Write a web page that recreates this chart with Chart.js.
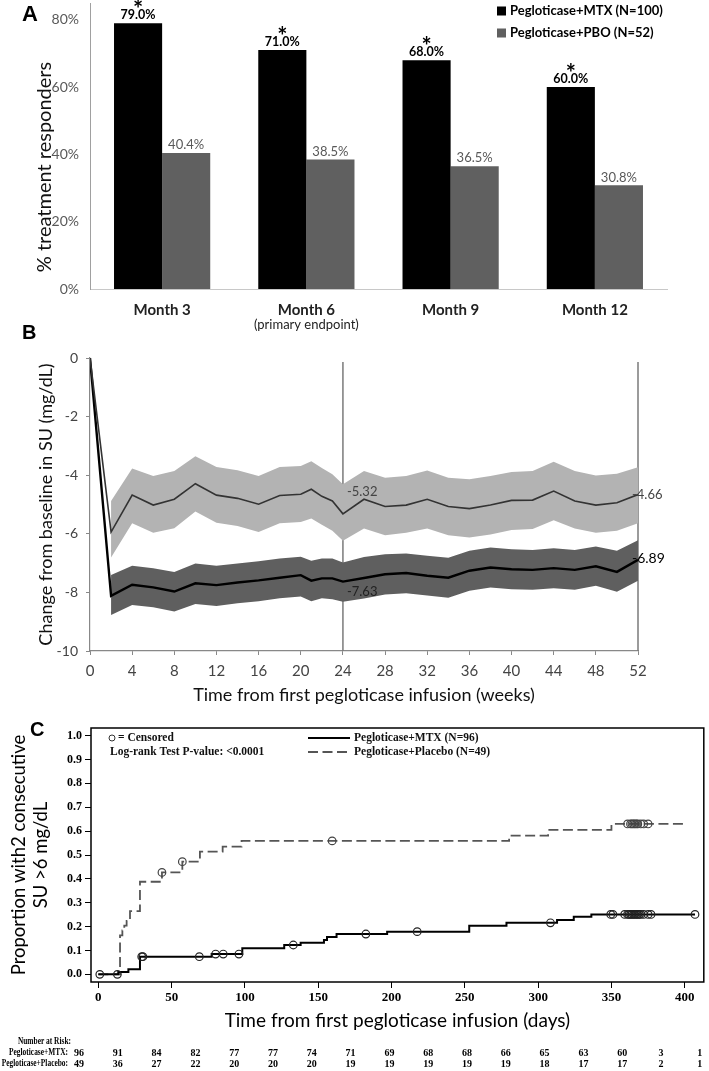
<!DOCTYPE html>
<html>
<head>
<meta charset="utf-8">
<script src="https://cdn.jsdelivr.net/npm/chart.js@4.4.0/dist/chart.umd.min.js"></script>
<style>
  html, body { margin: 0; padding: 0; background: #fff; }
  #page { position: relative; width: 709px; height: 1071px; overflow: hidden; }
  canvas { position: absolute; left: 0; }
</style>
</head>
<body>
<div id="page">
  <canvas id="respCanvas" width="709" height="340" style="top:0px"></canvas>
  <canvas id="suCanvas" width="709" height="397" style="top:318px"></canvas>
  <canvas id="kmCanvas" width="709" height="356" style="top:715px"></canvas>
</div>
<script>
// ---- Panel A: responders by month ----
const months = ['Month 3', 'Month 6', 'Month 9', 'Month 12'];
const monthNotes = ['', '(primary endpoint)', '', ''];
const mtxResp = [79.0, 71.0, 68.0, 60.0];
const pboResp = [40.4, 38.5, 36.5, 30.8];
const mtxStar = [true, true, true, true];
const respTicks = [0, 20, 40, 60, 80];

// ---- Panel B: change from baseline in SU ----
const weeks = [0, 2, 4, 6, 8, 10, 12, 14, 16, 18, 20, 21, 22, 23, 24, 26, 28, 30, 32, 34, 36, 38, 40, 42, 44, 46, 48, 50, 52];
const pboChange = [0, -5.94, -4.68, -5.02, -4.82, -4.29, -4.68, -4.79, -4.99, -4.69, -4.65, -4.48, -4.72, -4.88, -5.32, -4.82, -5.07, -5.02, -4.82, -5.07, -5.14, -5.02, -4.86, -4.85, -4.54, -4.88, -5.02, -4.94, -4.66];
const pboUpper = [null, -4.88, -3.77, -4.03, -3.86, -3.35, -3.72, -3.83, -4.03, -3.72, -3.69, -3.52, -3.75, -3.97, -4.31, -3.86, -4.09, -4.03, -3.84, -4.09, -4.14, -4.03, -3.89, -3.86, -3.54, -3.86, -4.01, -3.95, -3.73];
const pboLower = [null, -6.81, -5.64, -5.96, -5.81, -5.24, -5.62, -5.73, -5.94, -5.64, -5.60, -5.48, -5.69, -5.90, -6.24, -5.82, -6.05, -5.96, -5.82, -6.05, -6.13, -6.02, -5.87, -5.84, -5.54, -5.82, -5.96, -5.90, -5.64];
const mtxChange = [0, -8.12, -7.74, -7.83, -7.97, -7.69, -7.75, -7.66, -7.59, -7.50, -7.41, -7.60, -7.52, -7.52, -7.63, -7.51, -7.38, -7.34, -7.43, -7.50, -7.26, -7.15, -7.21, -7.23, -7.17, -7.23, -7.11, -7.30, -6.89];
const mtxUpper = [null, -7.41, -7.09, -7.18, -7.30, -7.01, -7.09, -7.01, -6.94, -6.84, -6.78, -6.92, -6.84, -6.84, -6.98, -6.79, -6.70, -6.67, -6.75, -6.82, -6.58, -6.47, -6.53, -6.55, -6.49, -6.55, -6.43, -6.58, -6.22];
const mtxLower = [null, -8.77, -8.43, -8.51, -8.65, -8.40, -8.46, -8.37, -8.30, -8.20, -8.14, -8.30, -8.20, -8.23, -8.32, -8.21, -8.07, -8.03, -8.11, -8.18, -7.94, -7.83, -7.89, -7.91, -7.86, -7.91, -7.77, -7.98, -7.60];
const weekTicks = [0, 4, 8, 12, 16, 20, 24, 28, 32, 36, 40, 44, 48, 52];
const suTicks = [0, -2, -4, -6, -8, -10];
const markerWeeks = [24, 52];

// ---- Panel C: Kaplan-Meier, loss of response ----
const mtxKmDays = [0, 13.6, 20.5, 28.4, 77.3, 98.2, 126.8, 138, 153.9, 156, 162.5, 197, 253, 278.4, 312.9, 324.3, 336.3, 407];
const mtxKmProp = [0, 0.010, 0.021, 0.074, 0.085, 0.109, 0.123, 0.132, 0.144, 0.156, 0.169, 0.179, 0.204, 0.216, 0.228, 0.241, 0.251, 0.251];
const mtxCensorDays = [1, 13, 29.6, 30.4, 68.9, 80, 85.2, 95.9, 133, 182.5, 217.5, 308.4, 349.5, 351, 359, 361, 362, 363, 364, 365, 366, 367, 368, 369, 370, 372, 375, 377, 407];
const mtxCensorProp = [0, 0, 0.074, 0.074, 0.074, 0.085, 0.085, 0.085, 0.123, 0.169, 0.179, 0.216, 0.251, 0.251, 0.251, 0.251, 0.251, 0.251, 0.251, 0.251, 0.251, 0.251, 0.251, 0.251, 0.251, 0.251, 0.251, 0.251, 0.251];
const pboKmDays = [0, 14.8, 16.4, 17.7, 19.3, 21.6, 28.4, 43.4, 57.3, 69.3, 84.8, 97.7, 280.2, 306.8, 350, 400];
const pboKmProp = [0, 0.163, 0.184, 0.204, 0.224, 0.265, 0.388, 0.427, 0.472, 0.514, 0.535, 0.559, 0.581, 0.605, 0.630, 0.630];
const pboCensorDays = [43.4, 57.3, 159.5, 361, 363, 364, 365, 366, 367, 368, 370, 372, 375];
const pboCensorProp = [0.427, 0.472, 0.559, 0.630, 0.630, 0.630, 0.630, 0.630, 0.630, 0.630, 0.630, 0.630, 0.630];
const kmDayTicks = [0, 50, 100, 150, 200, 250, 300, 350, 400];
const kmPropTicks = [0, 0.05, 0.1, 0.15, 0.2, 0.25, 0.3, 0.35, 0.4, 0.45, 0.5, 0.55, 0.6, 0.65, 0.7, 0.75, 0.8, 0.85, 0.9, 0.95, 1.0];
const riskLabels = ['Pegloticase+MTX:', 'Pegloticase+Placebo:'];
const riskMtx = [96, 91, 84, 82, 77, 77, 74, 71, 69, 68, 68, 66, 65, 63, 60, 3, 1];
const riskPbo = [49, 36, 27, 22, 20, 20, 20, 19, 19, 19, 19, 19, 18, 17, 17, 2, 1];

const SANS = 'Lato, "Open Sans", sans-serif';
const SERIF = '"Liberation Serif", "DejaVu Serif", serif';
Chart.defaults.font.family = SANS;

const pts = (xs, ys) => xs.map((x, i) => ({ x, y: ys[i] }));
const fixedTicks = values => scale => { scale.ticks = values.map(v => ({ value: v })); };

// plain text layer (panel letters, free titles)
function textLayer(id, items) {
    return {
        id,
        afterDraw(chart) {
            const ctx = chart.ctx;
            items.forEach(it => {
                ctx.save();
                ctx.font = it.font;
                ctx.fillStyle = it.color || '#000';
                ctx.textAlign = it.align || 'left';
                ctx.textBaseline = 'middle';
                ctx.translate(it.x, it.y);
                if (it.rotate) ctx.rotate(it.rotate);
                ctx.fillText(it.text, 0, 0);
                ctx.restore();
            });
        }
    };
}

// ===== Panel A =====
const barLabels = {
    id: 'barLabels',
    afterDatasetsDraw(chart) {
        const ctx = chart.ctx;
        chart.data.datasets.forEach((ds, i) => {
            chart.getDatasetMeta(i).data.forEach((bar, j) => {
                ctx.save();
                ctx.textAlign = 'center';
                ctx.textBaseline = 'middle';
                if (i === 0) {
                    ctx.fillStyle = '#000';
                    ctx.font = `bold 12.5px ${SANS}`;
                    ctx.fillText(ds.data[j].toFixed(1) + '%', bar.x, bar.y - 8);
                    if (mtxStar[j]) {
                        ctx.textBaseline = 'alphabetic';
                        ctx.font = `bold 24px ${SANS}`;
                        ctx.fillText('*', bar.x, bar.y - 5);
                    }
                } else {
                    ctx.fillStyle = '#595959';
                    ctx.font = `13px ${SANS}`;
                    ctx.fillText(ds.data[j].toFixed(1) + '%', bar.x, bar.y - 8);
                }
                ctx.restore();
            });
        });
        // sub note under the category label
        const xs = chart.scales.x;
        ctx.save();
        ctx.font = `13px ${SANS}`;
        ctx.fillStyle = '#222';
        ctx.textAlign = 'center';
        ctx.textBaseline = 'middle';
        monthNotes.forEach((note, j) => {
            if (note) ctx.fillText(note, xs.getPixelForValue(j), 325);
        });
        ctx.restore();
    }
};

const respLegend = {
    id: 'respLegend',
    afterDraw(chart) {
        const ctx = chart.ctx;
        chart.data.datasets.forEach((ds, i) => {
            const y = 11 + i * 22;
            ctx.save();
            ctx.fillStyle = ds.backgroundColor;
            ctx.fillRect(497, y - 4.5, 9, 9);
            ctx.fillStyle = '#000';
            ctx.font = `bold 13px ${SANS}`;
            ctx.textBaseline = 'middle';
            ctx.fillText(ds.label, 510, y);
            ctx.restore();
        });
    }
};

new Chart(document.getElementById('respCanvas'), {
    type: 'bar',
    data: {
        labels: months,
        datasets: [
            { label: 'Pegloticase+MTX (N=100)', data: mtxResp, backgroundColor: '#000000' },
            { label: 'Pegloticase+PBO (N=52)', data: pboResp, backgroundColor: '#606060' }
        ]
    },
    options: {
        responsive: false,
        animation: false,
        devicePixelRatio: 1,
        layout: { padding: { top: 3, right: 42, left: 0, bottom: 0 } },
        datasets: { bar: { categoryPercentage: 0.667, barPercentage: 1 } },
        plugins: { legend: { display: false }, tooltip: { enabled: false } },
        scales: {
            x: {
                grid: { display: false, drawTicks: false },
                border: { color: '#c8c8c8', width: 1 },
                ticks: { color: '#222', font: { size: 15, weight: 'bold' }, padding: 12 },
                afterFit(s) { s.height = 51; }
            },
            y: {
                min: 0,
                max: 85,
                afterBuildTicks: fixedTicks(respTicks),
                grid: { display: false, drawTicks: false },
                border: { color: '#a0a0a0', width: 1 },
                ticks: { callback: v => v + '%', color: '#595959', font: { size: 14 }, padding: 11 },
                afterFit(s) { s.width = 90; s.paddingTop = 0; s.paddingBottom = 0; }
            }
        }
    },
    plugins: [barLabels, respLegend, textLayer('respText', [
        { text: 'A', x: 22, y: 15, font: `bold 22px "Liberation Sans", sans-serif` },
        { text: '% treatment responders', x: 45, y: 167, font: `20px ${SANS}`, color: '#111', align: 'center', rotate: -Math.PI / 2 }
    ])]
});

// ===== Panel B =====
const suMarkers = {
    id: 'suMarkers',
    beforeDatasetsDraw(chart) {
        const { ctx, chartArea, scales: { x } } = chart;
        ctx.save();
        ctx.strokeStyle = '#7a7a7a';
        ctx.lineWidth = 1.5;
        markerWeeks.forEach(w => {
            const px = x.getPixelForValue(w);
            ctx.beginPath();
            ctx.moveTo(px, chartArea.top + 4);
            ctx.lineTo(px, chartArea.bottom);
            ctx.stroke();
        });
        ctx.restore();
    },
    afterDatasetsDraw(chart) {
        const { ctx, scales: { x, y } } = chart;
        const i24 = weeks.indexOf(markerWeeks[0]);
        const i52 = weeks.indexOf(markerWeeks[1]);
        const x24 = x.getPixelForValue(markerWeeks[0]);
        const x52 = x.getPixelForValue(markerWeeks[1]);
        ctx.save();
        ctx.textBaseline = 'middle';
        ctx.font = `13px ${SANS}`;
        ctx.fillStyle = '#444';
        ctx.fillText(pboChange[i24].toFixed(2), x24 + 4, y.getPixelForValue(pboChange[i24]) - 22);
        ctx.fillStyle = '#222';
        ctx.fillText(mtxChange[i24].toFixed(2), x24 + 4, y.getPixelForValue(mtxChange[i24]) + 10);
        ctx.fillStyle = '#444';
        ctx.fillText(pboChange[i52].toFixed(2), x52 - 6, y.getPixelForValue(pboChange[i52]));
        ctx.fillStyle = '#000';
        ctx.font = `14px ${SANS}`;
        ctx.fillText(mtxChange[i52].toFixed(2), x52 - 6, y.getPixelForValue(mtxChange[i52]) - 1);
        ctx.restore();
    }
};

new Chart(document.getElementById('suCanvas'), {
    type: 'line',
    data: {
        datasets: [
            { label: 'Pegloticase+PBO', data: pts(weeks, pboChange), borderColor: '#333333', borderWidth: 1.6, pointRadius: 0, order: 0 },
            { label: 'Pegloticase+MTX', data: pts(weeks, mtxChange), borderColor: '#000000', borderWidth: 2.4, pointRadius: 0, order: 0 },
            { label: 'PBO upper', data: pts(weeks, pboUpper), borderWidth: 0, pointRadius: 0, fill: '+1', backgroundColor: '#b3b3b3', order: 2 },
            { label: 'PBO lower', data: pts(weeks, pboLower), borderWidth: 0, pointRadius: 0, fill: false, order: 2 },
            { label: 'MTX upper', data: pts(weeks, mtxUpper), borderWidth: 0, pointRadius: 0, fill: '+1', backgroundColor: '#5f5f5f', order: 1 },
            { label: 'MTX lower', data: pts(weeks, mtxLower), borderWidth: 0, pointRadius: 0, fill: false, order: 1 }
        ]
    },
    options: {
        responsive: false,
        animation: false,
        devicePixelRatio: 1,
        layout: { padding: { top: 40, right: 71, left: 0, bottom: 0 } },
        elements: { line: { tension: 0 } },
        plugins: { legend: { display: false }, tooltip: { enabled: false } },
        scales: {
            x: {
                type: 'linear',
                min: 0,
                max: 52,
                afterBuildTicks: fixedTicks(weekTicks),
                grid: { drawOnChartArea: false, tickLength: 4, color: '#888' },
                border: { color: '#888', width: 1.2 },
                ticks: { color: '#444', font: { size: 15 }, padding: 7 },
                title: { display: true, text: 'Time from first pegloticase infusion (weeks)', color: '#111', font: { size: 18 }, padding: { top: 0, bottom: 9 } },
                afterFit(s) { s.height = 64; }
            },
            y: {
                min: -10,
                max: 0,
                afterBuildTicks: fixedTicks(suTicks),
                grid: { drawOnChartArea: false, tickLength: 4, color: '#888' },
                border: { color: '#888', width: 1.2 },
                ticks: { color: '#444', font: { size: 14 }, padding: 8 },
                title: { display: true, text: 'Change from baseline in SU (mg/dL)', color: '#111', font: { size: 18 }, padding: { top: 35, bottom: 0 } },
                afterFit(s) { s.width = 90; s.paddingTop = 0; s.paddingBottom = 0; }
            }
        }
    },
    plugins: [suMarkers, textLayer('suText', [
        { text: 'B', x: 22, y: 15, font: `bold 20px "Liberation Sans", sans-serif` }
    ])]
});

// ===== Panel C =====
const kmFrame = {
    id: 'kmFrame',
    afterDraw(chart) {
        const { ctx, chartArea: a } = chart;
        ctx.save();
        ctx.strokeStyle = '#000';
        ctx.lineWidth = 1.5;
        ctx.strokeRect(a.left, a.top, a.right - a.left, a.bottom - a.top);

        // legend inside the frame
        const solid = chart.data.datasets[0];
        const dashed = chart.data.datasets[1];
        ctx.font = `bold 11.5px ${SERIF}`;
        ctx.fillStyle = '#111';
        ctx.textBaseline = 'middle';
        ctx.lineWidth = 1;
        ctx.strokeStyle = '#333';
        ctx.beginPath();
        ctx.arc(112, 23, 3, 0, Math.PI * 2);
        ctx.stroke();
        ctx.fillText('= Censored', 118, 23);
        ctx.fillText('Log-rank Test P-value: <0.0001', 110, 37);

        ctx.strokeStyle = solid.borderColor;
        ctx.lineWidth = solid.borderWidth;
        ctx.beginPath();
        ctx.moveTo(308, 23);
        ctx.lineTo(350, 23);
        ctx.stroke();
        ctx.strokeStyle = dashed.borderColor;
        ctx.lineWidth = dashed.borderWidth;
        ctx.setLineDash(dashed.borderDash);
        ctx.beginPath();
        ctx.moveTo(308, 37);
        ctx.lineTo(350, 37);
        ctx.stroke();
        ctx.setLineDash([]);
        ctx.fillText(solid.label, 354, 23);
        ctx.fillText(dashed.label, 354, 37);

        // number at risk table
        ctx.fillStyle = '#000';
        ctx.font = `bold 9.5px ${SERIF}`;
        ctx.textAlign = 'right';
        [['Number at Risk:', 71, 327], [riskLabels[0], 68, 338], [riskLabels[1], 68, 349]].forEach(([t, x, y]) => {
            ctx.save();
            ctx.translate(x, y);
            ctx.scale(0.78, 1);
            ctx.fillText(t, 0, 0);
            ctx.restore();
        });
        ctx.textAlign = 'center';
        ctx.font = `bold 10px ${SERIF}`;
        riskMtx.forEach((n, i) => ctx.fillText(String(n), 79 + i * 38.8, 338));
        riskPbo.forEach((n, i) => ctx.fillText(String(n), 79 + i * 38.8, 349));
        ctx.restore();
    }
};

new Chart(document.getElementById('kmCanvas'), {
    type: 'scatter',
    data: {
        datasets: [
            { label: 'Pegloticase+MTX (N=96)', data: pts(mtxKmDays, mtxKmProp), showLine: true, stepped: true, borderColor: '#000000', borderWidth: 2, pointRadius: 0, order: 1 },
            { label: 'Pegloticase+Placebo (N=49)', data: pts(pboKmDays, pboKmProp), showLine: true, stepped: true, borderColor: '#555555', borderWidth: 1.8, borderDash: [10, 4.5], pointRadius: 0, order: 1 },
            { label: 'MTX censored', data: pts(mtxCensorDays, mtxCensorProp), showLine: false, pointRadius: 3.8, pointBorderWidth: 1.2, pointBorderColor: '#222', pointBackgroundColor: 'rgba(255,255,255,0)', order: 0 },
            { label: 'Placebo censored', data: pts(pboCensorDays, pboCensorProp), showLine: false, pointRadius: 3.8, pointBorderWidth: 1.2, pointBorderColor: '#444', pointBackgroundColor: 'rgba(255,255,255,0)', order: 0 }
        ]
    },
    options: {
        responsive: false,
        animation: false,
        devicePixelRatio: 1,
        layout: { padding: { top: 13, right: 5, left: 0, bottom: 0 } },
        plugins: { legend: { display: false }, tooltip: { enabled: false } },
        scales: {
            x: {
                type: 'linear',
                min: -5,
                max: 413,
                afterBuildTicks: fixedTicks(kmDayTicks),
                grid: { drawOnChartArea: false, tickLength: 6, color: '#000' },
                border: { display: false },
                ticks: { color: '#000', font: { family: SERIF, size: 13, weight: 'bold' }, padding: 2 },
                title: { display: true, text: 'Time from first pegloticase infusion (days)', color: '#000', font: { size: 19 }, padding: { top: 0, bottom: 39 } },
                afterFit(s) { s.height = 89; }
            },
            y: {
                min: -0.032,
                max: 1.032,
                afterBuildTicks: fixedTicks(kmPropTicks),
                grid: { drawOnChartArea: false, tickLength: 6, color: '#000' },
                border: { display: false },
                ticks: {
                    color: '#000',
                    font: { family: SERIF, size: 12, weight: 'bold' },
                    padding: 3,
                    callback: v => (Math.round(v * 100) % 10 === 0 ? v.toFixed(1) : '')
                },
                title: { display: true, text: ['Proportion with2 consecutive', 'SU >6 mg/dL'], color: '#000', font: { size: 18.5 }, padding: { top: 8, bottom: 0 } },
                afterFit(s) { s.width = 91; s.paddingTop = 0; s.paddingBottom = 0; }
            }
        }
    },
    plugins: [kmFrame, textLayer('kmText', [
        { text: 'C', x: 30, y: 15, font: `bold 20px "Liberation Sans", sans-serif` }
    ])]
});
</script>
</body>
</html>
